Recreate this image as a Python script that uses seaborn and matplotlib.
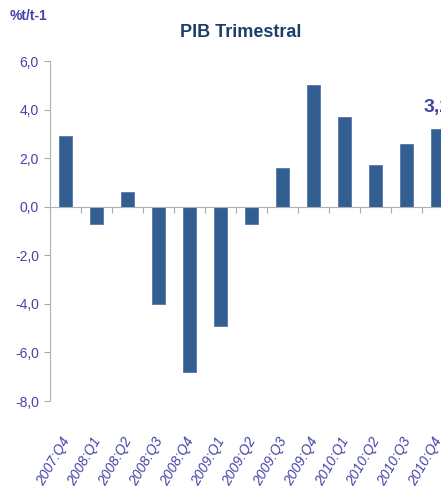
import matplotlib
matplotlib.use("Agg")
import matplotlib.pyplot as plt
import matplotlib.transforms as mtransforms
from matplotlib.ticker import FuncFormatter, FixedLocator
import seaborn as sns
import pandas as pd

quarters = ["2007:Q4", "2008:Q1", "2008:Q2", "2008:Q3", "2008:Q4", "2009:Q1", "2009:Q2",
            "2009:Q3", "2009:Q4", "2010:Q1", "2010:Q2", "2010:Q3", "2010:Q4"]
pib = [2.9, -0.7, 0.6, -4.0, -6.8, -4.9, -0.7, 1.6, 5.0, 3.7, 1.7, 2.6, 3.2]
y_ticks = [-8, -6, -4, -2, 0, 2, 4, 6]

sns.set_style("white")
plt.rcParams["font.family"] = ["Liberation Sans Narrow", "Liberation Sans", "DejaVu Sans"]

bar_color = "#335e92"
txt_color = "#4444a6"

df = pd.DataFrame({"quarter": quarters, "pib": pib})

fig = plt.figure(figsize=(4.41, 4.94), dpi=100)
ax = fig.add_axes([50 / 441, 93 / 494, 403 / 441, 340 / 494])

sns.barplot(data=df, x="quarter", y="pib", color=bar_color, width=0.4,
            saturation=1, ax=ax, edgecolor="#5577aa", linewidth=0.6)

ax.set_xlim(-0.5, len(quarters) - 0.5)
ax.set_ylim(-8, 6)
ax.set_xlabel("")
ax.set_ylabel("")

# y axis
ax.yaxis.set_major_locator(FixedLocator(y_ticks))
ax.yaxis.set_major_formatter(FuncFormatter(lambda v, p: f"{v:.1f}".replace(".", ",")))
ax.tick_params(axis="y", direction="out", length=4, width=0.8, color="#aaaaaa",
               labelcolor=txt_color, labelsize=10, pad=4, left=True)

# x axis on the zero line, ticks between categories
for s in ["top", "right"]:
    ax.spines[s].set_visible(False)
ax.spines["left"].set_color("#b0b0b0")
ax.spines["bottom"].set_color("#b0b0b0")
ax.spines["bottom"].set_position(("data", 0))
ax.set_xticks([i + 0.5 for i in range(len(quarters))])
ax.set_xticklabels([])
ax.tick_params(axis="x", direction="out", length=4, width=0.8, color="#aaaaaa", bottom=True)

trans = mtransforms.blended_transform_factory(ax.transData, ax.transAxes)
for i, q in enumerate(quarters):
    ax.text(i + 0.05, -0.11, q, transform=trans, rotation=60, rotation_mode="anchor",
            ha="right", va="center", color=txt_color, fontsize=10, fontstyle="italic",
            clip_on=False)

ax.text(len(quarters) - 1, pib[-1] + 0.55, f"{pib[-1]:.1f}".replace(".", ","),
        ha="center", va="bottom", color=txt_color, fontsize=14, fontweight="bold",
        clip_on=False)

fig.text(0.545, 0.935, "PIB Trimestral", ha="center", va="center",
         color="#1f3d6b", fontsize=13, fontweight="bold")
fig.text(0.022, 0.968, "%t/t-1", ha="left", va="center",
         color=txt_color, fontsize=10, fontweight="bold")

fig.savefig("out.png", dpi=100)
